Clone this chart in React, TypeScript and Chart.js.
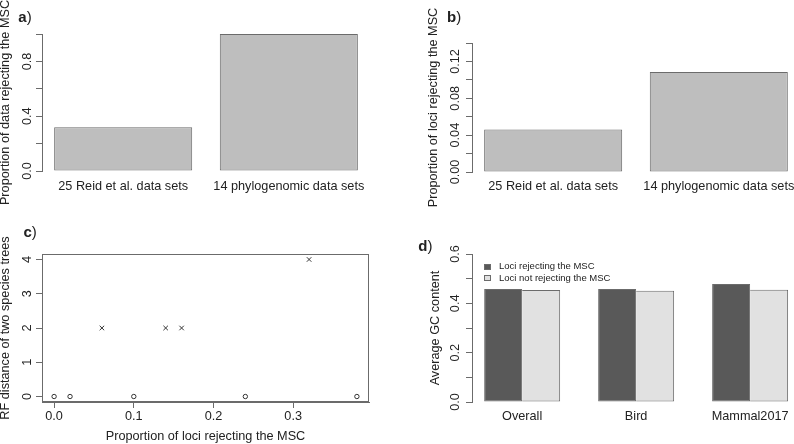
import React, { useEffect, useRef } from 'react';
import { Chart, registerables } from 'chart.js';

Chart.register(...registerables);

const FONT = '"Liberation Sans", Arial, Helvetica, sans-serif';
const TEXT = '#222222';
const LINE = '#6b6b6b';
const AXIS_SIZE = 12.7;
const PANEL_W = 397;
const PANEL_H = 222;
const TICK_LEN = 6;

// ---------- data ----------
// a)
const dataSetGroups = ['25 Reid et al. data sets', '14 phylogenomic data sets'];
const propDataRejecting = [0.32, 1.0];
const propDataTicks = [0, 0.2, 0.4, 0.6, 0.8, 1.0];
// b)
const propLociRejecting = [0.046, 0.1085];
const propLociTicks = [0, 0.02, 0.04, 0.06, 0.08, 0.1, 0.12, 0.14];
// c)
const sameTreeProp = [0, 0.02, 0.1, 0.24, 0.38];
const sameTreeRF = [0, 0, 0, 0, 0];
const diffTreeProp = [0.06, 0.14, 0.16, 0.32];
const diffTreeRF = [2, 2, 2, 4];
const rfPropTicks = [0, 0.1, 0.2, 0.3];
const rfTicks = [0, 1, 2, 3, 4];
// d)
const gcGroups = ['Overall', 'Bird', 'Mammal2017'];
const gcRejecting = [0.458, 0.458, 0.478];
const gcNotRejecting = [0.454, 0.451, 0.455];
const gcTicks = [0, 0.1, 0.2, 0.3, 0.4, 0.5, 0.6];
const gcSeriesLabels = ['Loci rejecting the MSC', 'Loci not rejecting the MSC'];

// ---------- helpers ----------
let measureCtx: CanvasRenderingContext2D | null = null;
function textWidth(s: string, size: number) {
  if (!measureCtx) measureCtx = document.createElement('canvas').getContext('2d');
  measureCtx!.font = `${size}px ${FONT}`;
  return measureCtx!.measureText(s).width;
}

const tickFont = { family: FONT, size: AXIS_SIZE, lineHeight: 1.2 };
const titleFont = { family: FONT, size: AXIS_SIZE, lineHeight: 1 };
const HALF_TICK_LH = (AXIS_SIZE * 1.2) / 2;

function setTicks(values: number[]) {
  return (scale: any) => {
    scale.ticks = values.map((value) => ({ value }));
  };
}

function fitTo(w: number | null, h: number | null) {
  return (scale: any) => {
    if (w !== null) scale.width = w;
    if (h !== null) scale.height = h;
    scale.paddingLeft = 0;
    scale.paddingRight = 0;
    scale.paddingTop = 0;
    scale.paddingBottom = 0;
  };
}

function everyOther(ticks: number[], digits: number) {
  return ticks.map((v, i) => (i % 2 === 0 ? v.toFixed(digits) : ''));
}

function yAxis(o: {
  min: number; max: number; ticks: number[]; labels: string[];
  chartLeft: number; labelCenter: number; titleCenter: number; title: string;
}) {
  const widest = Math.max(...o.labels.map((l) => textWidth(l, AXIS_SIZE)));
  return {
    type: 'linear',
    position: 'left',
    min: o.min,
    max: o.max,
    afterBuildTicks: setTicks(o.ticks),
    afterFit: fitTo(o.chartLeft, null),
    grid: { display: true, drawOnChartArea: false, drawTicks: true, tickLength: TICK_LEN, color: LINE, lineWidth: 1 },
    border: { display: true, color: LINE, width: 1 },
    ticks: {
      autoSkip: false,
      minRotation: 90,
      maxRotation: 90,
      crossAlign: 'center',
      padding: o.chartLeft - TICK_LEN - o.labelCenter - widest / 2,
      font: tickFont,
      color: TEXT,
      callback: (_v: any, i: number) => o.labels[i],
    },
    title: {
      display: true,
      text: o.title,
      font: titleFont,
      color: TEXT,
      padding: { top: o.titleCenter - AXIS_SIZE / 2, bottom: 0 },
    },
  };
}

function xBarAxis(o: { groups: string[]; min: number; max: number; chartBottom: number; labelCenter: number }) {
  return {
    type: 'linear',
    position: 'bottom',
    min: o.min,
    max: o.max,
    offset: false,
    afterBuildTicks: setTicks(o.groups.map((_, i) => i)),
    afterFit: fitTo(null, PANEL_H - o.chartBottom),
    grid: { display: false, drawTicks: false, offset: false },
    border: { display: false },
    ticks: {
      autoSkip: false,
      minRotation: 0,
      maxRotation: 0,
      padding: o.labelCenter - o.chartBottom - HALF_TICK_LH,
      font: tickFont,
      color: TEXT,
      callback: (_v: any, i: number) => o.groups[i],
    },
  };
}

function panelLabel(letter: string, x: number, y: number) {
  return {
    id: 'panelLabel',
    afterDraw(chart: any) {
      const ctx = chart.ctx;
      ctx.save();
      ctx.fillStyle = TEXT;
      ctx.textAlign = 'left';
      ctx.textBaseline = 'alphabetic';
      ctx.font = `bold 15px ${FONT}`;
      ctx.fillText(letter, x, y);
      const w = ctx.measureText(letter).width;
      ctx.font = `15px ${FONT}`;
      ctx.fillText(')', x + w, y);
      ctx.restore();
    },
  };
}

const framePlugin = {
  id: 'frame',
  afterDatasetsDraw(chart: any) {
    const { ctx, chartArea } = chart;
    const l = Math.round(chartArea.left) + 0.5;
    const t = Math.round(chartArea.top) + 0.5;
    const r = Math.round(chartArea.right) - 0.5;
    const b = Math.round(chartArea.bottom) - 0.5;
    ctx.save();
    ctx.strokeStyle = LINE;
    ctx.lineWidth = 1;
    ctx.strokeRect(l, t, r - l, b - t);
    ctx.restore();
  },
};

const gcLegendPlugin = {
  id: 'gcLegend',
  afterDraw(chart: any) {
    const { ctx, chartArea } = chart;
    ctx.save();
    ctx.font = `9.5px ${FONT}`;
    ctx.textAlign = 'left';
    ctx.textBaseline = 'middle';
    chart.data.datasets.forEach((ds: any, i: number) => {
      const cy = chartArea.top + 12.5 + i * 11.8;
      const bx = Math.round(chartArea.left + 12) + 0.5;
      const by = Math.round(cy - 3) + 0.5;
      ctx.fillStyle = ds.backgroundColor;
      ctx.fillRect(bx, by, 6, 5);
      ctx.strokeStyle = LINE;
      ctx.lineWidth = 1;
      ctx.strokeRect(bx, by, 6, 5);
      ctx.fillStyle = TEXT;
      ctx.fillText(ds.label, chartArea.left + 27, cy);
    });
    ctx.restore();
  },
};

const baseOptions = {
  responsive: false,
  animation: false,
  events: [],
};
const noPlugins = { legend: { display: false }, tooltip: { enabled: false }, title: { display: false } };

// ---------- configs ----------
function configA(): any {
  return {
    type: 'bar',
    data: {
      datasets: [
        {
          label: 'Proportion of data rejecting the MSC',
          data: propDataRejecting.map((y, x) => ({ x, y })),
          backgroundColor: '#BEBEBE',
          borderColor: LINE,
          borderWidth: 1,
          borderSkipped: false,
          barPercentage: 1 / 1.2,
          categoryPercentage: 1,
        },
      ],
    },
    options: {
      ...baseOptions,
      layout: { padding: { left: 0, top: 34, right: PANEL_W - 370, bottom: 0 } },
      plugins: noPlugins,
      scales: {
        x: xBarAxis({ groups: dataSetGroups, min: -0.49, max: 1.49, chartBottom: 171, labelCenter: 186.7 }),
        y: yAxis({
          min: 0, max: 1, ticks: propDataTicks, labels: everyOther(propDataTicks, 1),
          chartLeft: 42, labelCenter: 27, titleCenter: 5.5, title: 'Proportion of data rejecting the MSC',
        }),
      },
    },
    plugins: [panelLabel('a', 18.3, 21.5)],
  };
}

function configB(): any {
  return {
    type: 'bar',
    data: {
      datasets: [
        {
          label: 'Proportion of loci rejecting the MSC',
          data: propLociRejecting.map((y, x) => ({ x, y })),
          backgroundColor: '#BEBEBE',
          borderColor: LINE,
          borderWidth: 1,
          borderSkipped: false,
          barPercentage: 1 / 1.2,
          categoryPercentage: 1,
        },
      ],
    },
    options: {
      ...baseOptions,
      layout: { padding: { left: 0, top: 43, right: 0, bottom: 0 } },
      plugins: noPlugins,
      scales: {
        x: xBarAxis({ groups: dataSetGroups, min: -0.49, max: 1.454, chartBottom: 172, labelCenter: 186.7 }),
        y: yAxis({
          min: 0, max: 0.14, ticks: propLociTicks, labels: everyOther(propLociTicks, 2),
          chartLeft: 75, labelCenter: 58, titleCenter: 36.7, title: 'Proportion of loci rejecting the MSC',
        }),
      },
    },
    plugins: [panelLabel('b', 50, 21.5)],
  };
}

function configC(): any {
  return {
    type: 'scatter',
    data: {
      datasets: [
        {
          label: 'Identical species trees',
          data: sameTreeProp.map((x, i) => ({ x, y: sameTreeRF[i] })),
          pointStyle: 'circle',
          pointRadius: 2.2,
          pointBorderColor: '#333333',
          pointBackgroundColor: 'rgba(0,0,0,0)',
          pointBorderWidth: 1,
          showLine: false,
        },
        {
          label: 'Different species trees',
          data: diffTreeProp.map((x, i) => ({ x, y: diffTreeRF[i] })),
          pointStyle: 'crossRot',
          pointRadius: 3.2,
          pointBorderColor: '#333333',
          pointBorderWidth: 1,
          showLine: false,
        },
      ],
    },
    options: {
      ...baseOptions,
      layout: { padding: { left: 0, top: 32, right: PANEL_W - 369, bottom: 0 } },
      plugins: noPlugins,
      scales: {
        x: {
          type: 'linear',
          position: 'bottom',
          min: -0.0152,
          max: 0.3952,
          afterBuildTicks: setTicks(rfPropTicks),
          afterFit: fitTo(null, PANEL_H - 180),
          grid: { display: true, drawOnChartArea: false, drawTicks: true, tickLength: TICK_LEN, color: LINE, lineWidth: 1 },
          border: { display: true, color: LINE, width: 1 },
          ticks: {
            autoSkip: false,
            minRotation: 0,
            maxRotation: 0,
            padding: 194.7 - 180 - TICK_LEN - HALF_TICK_LH,
            font: tickFont,
            color: TEXT,
            callback: (_v: any, i: number) => rfPropTicks[i].toFixed(1),
          },
          title: {
            display: true,
            text: 'Proportion of loci rejecting the MSC',
            font: titleFont,
            color: TEXT,
            padding: { top: 0, bottom: PANEL_H - 214.7 - AXIS_SIZE / 2 },
          },
        },
        y: yAxis({
          min: -0.16, max: 4.16, ticks: rfTicks, labels: rfTicks.map((v) => v.toFixed(0)),
          chartLeft: 42, labelCenter: 27.5, titleCenter: 5, title: 'RF distance of two species trees',
        }),
      },
    },
    plugins: [framePlugin, panelLabel('c', 23.5, 15)],
  };
}

function configD(): any {
  return {
    type: 'bar',
    data: {
      datasets: [
        {
          label: gcSeriesLabels[0],
          data: gcRejecting.map((y, x) => ({ x, y })),
          backgroundColor: '#595959',
          borderColor: LINE,
          borderWidth: 1,
          borderSkipped: false,
          barPercentage: 1,
          categoryPercentage: 2 / 3,
        },
        {
          label: gcSeriesLabels[1],
          data: gcNotRejecting.map((y, x) => ({ x, y })),
          backgroundColor: '#E1E1E1',
          borderColor: LINE,
          borderWidth: 1,
          borderSkipped: 'left',
          barPercentage: 1,
          categoryPercentage: 2 / 3,
        },
      ],
    },
    options: {
      ...baseOptions,
      layout: { padding: { left: 0, top: 32, right: 0, bottom: 0 } },
      plugins: noPlugins,
      scales: {
        x: xBarAxis({ groups: gcGroups, min: -0.44, max: 2.385, chartBottom: 180, labelCenter: 194 }),
        y: yAxis({
          min: 0, max: 0.6, ticks: gcTicks, labels: everyOther(gcTicks, 1),
          chartLeft: 75, labelCenter: 58, titleCenter: 38, title: 'Average GC content',
        }),
      },
    },
    plugins: [gcLegendPlugin, panelLabel('d', 21.3, 28.5)],
  };
}

function ChartPanel({ make, left, top }: { make: () => any; left: number; top: number }) {
  const ref = useRef<HTMLCanvasElement>(null);
  useEffect(() => {
    const chart = new Chart(ref.current as HTMLCanvasElement, make());
    return () => chart.destroy();
  }, [make]);
  return (
    <canvas
      ref={ref}
      width={PANEL_W}
      height={PANEL_H}
      style={{ position: 'absolute', left, top, width: PANEL_W, height: PANEL_H }}
    />
  );
}

export default function App() {
  return (
    <div
      style={{
        position: 'fixed',
        left: 0,
        top: 0,
        width: 794,
        height: 444,
        background: '#ffffff',
        overflow: 'hidden',
      }}
    >
      <ChartPanel make={configA} left={0} top={0} />
      <ChartPanel make={configB} left={397} top={0} />
      <ChartPanel make={configC} left={0} top={222} />
      <ChartPanel make={configD} left={397} top={222} />
    </div>
  );
}
